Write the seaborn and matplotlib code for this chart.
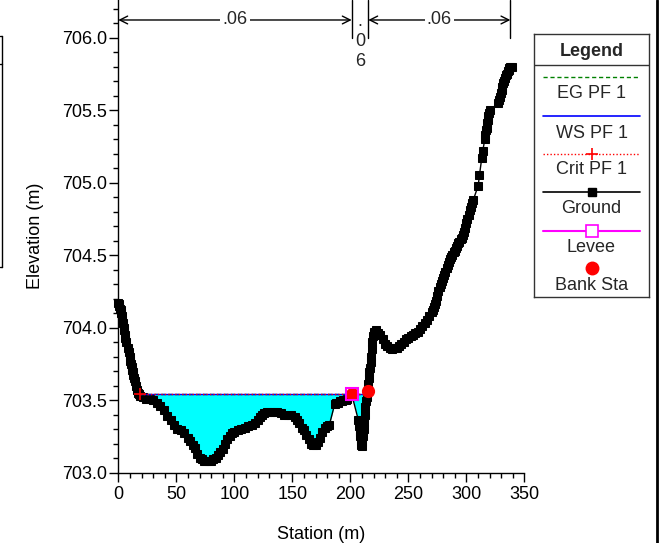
import numpy as np
import pandas as pd
import matplotlib
matplotlib.use("Agg")
import matplotlib.pyplot as plt
from matplotlib.lines import Line2D
from matplotlib.ticker import MultipleLocator, FormatStrFormatter
import seaborn as sns

# ---------------- data ----------------
station = [0, 0.5, 1, 1.5, 2, 2.5, 3, 3.5, 4, 4.5, 5, 5.5, 6, 7, 8, 9, 10, 10.5, 11, 11.5,
           12, 12.5, 13, 13.5, 14, 15, 16, 17, 18, 19,
           21, 24, 27, 30, 33, 36, 39, 42, 45, 48, 51, 54, 57, 60, 62, 64, 66, 68, 70,
           72, 74, 76, 78, 80, 82, 84, 86, 88, 90, 92, 94, 96, 98, 100, 103, 106, 109,
           112, 115, 118, 120, 122, 124, 126, 128, 131, 134, 137, 140, 143, 146, 149,
           152, 154, 156, 158, 160, 162, 164, 166, 168, 170, 172, 174, 176, 178, 180, 182,
           186.5, 188, 189.5, 191, 192.5, 194, 196, 197.5, 201.2,
           207, 207.5, 208, 208.5, 209, 209.5, 210, 210.5, 211, 211.5, 212, 212.5, 213,
           213.5, 214, 214.5, 215, 215.5, 216, 216.5, 217, 217.5, 218, 218.5, 219, 219.5,
           220, 222, 224,
           226, 228, 230, 232, 234, 236, 238, 240, 242, 244, 246, 248, 250, 252, 254, 256,
           258, 260, 262, 264, 266, 268, 270, 271, 272, 273, 274, 275, 276, 277, 278, 279,
           280, 281, 282, 283, 284, 285, 286, 287, 288, 289, 290, 291, 292, 293, 294, 295,
           296, 297, 298, 299, 300, 301, 302, 303, 304, 305, 306,
           310.3, 311.3, 313.3, 314.2,
           316, 316.5, 317, 317.5, 318, 318.5, 319, 319.5, 320.5,
           327.6, 328.3, 329, 329.7, 330.5, 331.2, 332, 332.7, 333.5, 334.2, 335, 335.7,
           336.5, 337.2, 338, 339]
elevation = [704.17, 704.16, 704.15, 704.13, 704.12, 704.10, 704.08, 704.05, 704.03, 704.00,
             703.98, 703.95, 703.93, 703.90, 703.86, 703.83, 703.80, 703.77, 703.75, 703.73,
             703.71, 703.69, 703.67, 703.65, 703.63, 703.60, 703.57, 703.55, 703.54, 703.53,
             703.52, 703.51, 703.51, 703.50, 703.48, 703.46, 703.43, 703.39, 703.36, 703.33,
             703.30, 703.29, 703.27, 703.24, 703.22, 703.19, 703.17, 703.13, 703.10,
             703.09, 703.08, 703.08, 703.08, 703.08, 703.09, 703.10, 703.12, 703.14, 703.16,
             703.20, 703.23, 703.25, 703.27, 703.28, 703.29, 703.30, 703.31,
             703.32, 703.33, 703.34, 703.36, 703.38, 703.40, 703.41, 703.42, 703.42, 703.42,
             703.42, 703.41, 703.40, 703.40, 703.40,
             703.38, 703.36, 703.34, 703.31, 703.29, 703.26, 703.23, 703.20, 703.19, 703.19,
             703.21, 703.24, 703.28, 703.31, 703.32, 703.33,
             703.47, 703.48, 703.48, 703.49, 703.49, 703.50, 703.50, 703.51, 703.54,
             703.36, 703.32, 703.28, 703.25, 703.22, 703.19, 703.18, 703.21, 703.25, 703.30,
             703.35, 703.40, 703.45, 703.49, 703.52, 703.55, 703.57, 703.61, 703.65, 703.69,
             703.72, 703.76, 703.80, 703.85, 703.90, 703.94,
             703.97, 703.98, 703.96,
             703.95, 703.92, 703.89, 703.87, 703.86, 703.85, 703.86, 703.86, 703.87, 703.89,
             703.90, 703.92, 703.93, 703.94, 703.95, 703.96,
             703.97, 703.99, 704.01, 704.03, 704.05, 704.08, 704.11, 704.12, 704.14, 704.16,
             704.18, 704.22, 704.25, 704.28, 704.30, 704.32,
             704.34, 704.36, 704.38, 704.41, 704.43, 704.45, 704.47, 704.49, 704.50, 704.52,
             704.53, 704.55, 704.56, 704.58, 704.59, 704.61,
             704.62, 704.64, 704.66, 704.69, 704.72, 704.75, 704.78, 704.81, 704.83, 704.86,
             704.88,
             704.98, 705.05, 705.17, 705.22,
             705.30, 705.33, 705.36, 705.38, 705.41, 705.43, 705.46, 705.48, 705.50,
             705.55, 705.57, 705.59, 705.62, 705.64, 705.66, 705.69, 705.70, 705.72, 705.74,
             705.75, 705.77, 705.78, 705.79, 705.80, 705.80]

ws_station = [18.7, 214.5]
ws_elev = 703.54
eg_elev = 703.545
crit_elev = 703.54
levee_station = [201.2]
levee_elev = [703.54]
bank_station = [201.2, 215.5]
bank_elev = [703.54, 703.56]
n_breaks = [0, 201.2, 215.5, 338]
n_values = [".06", ".06", ".06"]

ground = pd.DataFrame({"Station (m)": station, "Elevation (m)": elevation})

# ---------------- style ----------------
sns.set_theme(style="ticks")
plt.rcParams["font.family"] = ["Liberation Sans", "DejaVu Sans"]
plt.rcParams["font.size"] = 13

W, H = 659, 543
fig = plt.figure(figsize=(W / 100, H / 100), dpi=100)
fig.patch.set_facecolor("white")

x0, x1 = 118.3, 524.3
ybot = 472.5
ax = fig.add_axes([x0 / W, (H - ybot) / H, (x1 - x0) / W, ybot / H])
ax.set_facecolor("white")

# water fill
st = np.array(station, dtype=float)
el = np.array(elevation, dtype=float)
mask = (st >= ws_station[0]) & (st <= 216)
ax.fill_between(st, el, ws_elev, where=mask & (el <= ws_elev), interpolate=True,
                color="#00FFFF", linewidth=0, zorder=1)

# ground
sns.lineplot(data=ground, x="Station (m)", y="Elevation (m)", sort=False, ax=ax,
             color="black", linewidth=1, marker="s", markersize=5.5,
             markeredgecolor="black", markerfacecolor="black", zorder=3, clip_on=False)

# EG, WS, Crit
ax.plot(ws_station, [eg_elev] * 2, color="#008000", linestyle=(0, (3, 2)), linewidth=1, zorder=4)
ax.plot(ws_station, [ws_elev] * 2, color="blue", linewidth=1, zorder=5)
ax.plot(ws_station, [crit_elev] * 2, color="red", linestyle=(0, (1, 1.5)), linewidth=1,
        marker="+", markevery=[0], markersize=8, markeredgewidth=1.2, zorder=6)

# bank stations and levee
ax.plot(bank_station, bank_elev, linestyle="none", marker="o", markersize=8.5,
        color="red", zorder=7)
ax.plot(levee_station, levee_elev, linestyle="none", marker="s", markersize=8.5,
        markerfacecolor="none", markeredgecolor="#FF00FF", markeredgewidth=1.5, zorder=8)

# axes
ytop = 706.0 + 37.7 / 145
ax.set_xlim(0, 350)
ax.set_ylim(703.0, ytop)
ax.xaxis.set_major_locator(MultipleLocator(50))
ax.xaxis.set_minor_locator(MultipleLocator(10))
ax.yaxis.set_major_locator(MultipleLocator(0.5))
ax.yaxis.set_minor_locator(MultipleLocator(0.1))
ax.yaxis.set_major_formatter(FormatStrFormatter("%.1f"))
ax.tick_params(axis="both", which="major", direction="out", length=6.5, width=1,
               color="black", labelsize=13, labelcolor="black")
ax.tick_params(axis="x", which="major", pad=3.5)
ax.tick_params(axis="y", which="major", pad=1.5)
ax.tick_params(axis="both", which="minor", direction="out", length=3.5, width=1, color="black")
for s in ["top", "right"]:
    ax.spines[s].set_visible(False)
for s in ["left", "bottom"]:
    ax.spines[s].set_color("black")
    ax.spines[s].set_linewidth(1)
ax.set_xlabel("Station (m)", fontsize=13, color="black", labelpad=16)
ax.set_ylabel("Elevation (m)", fontsize=13, color="black", labelpad=13)
ax.grid(False)

# Manning's n annotations
yarr = 706.0 + (37.7 - 20) / 145
for b in n_breaks[1:]:
    ax.plot([b, b], [706.0, ytop], color="black", linewidth=1, clip_on=False, zorder=9)
segs = [(n_breaks[0], n_breaks[1]), (n_breaks[2], n_breaks[3])]
for (a, b), lab in zip(segs, [n_values[0], n_values[2]]):
    ax.annotate("", xy=(a, yarr), xytext=(b, yarr),
                arrowprops=dict(arrowstyle="<->", color="black", lw=1,
                                shrinkA=0, shrinkB=0, mutation_scale=14))
    ax.text((a + b) / 2, yarr, lab, ha="center", va="center", fontsize=13,
            bbox=dict(facecolor="white", edgecolor="none", pad=1.5), zorder=10)
mid = (n_breaks[1] + n_breaks[2]) / 2
for ch, py in zip(list(n_values[1]), [26.5, 46.5, 66.5]):
    ax.text(mid, 706.0 + (37.7 - py) / 145, ch, ha="center", va="baseline", fontsize=13)

# ---------------- legend panel ----------------
lx0, lx1, ly0, ly1 = 534, 649, 34, 297
lax = fig.add_axes([lx0 / W, (H - ly1) / H, (lx1 - lx0) / W, (ly1 - ly0) / H])
lax.set_xlim(lx0, lx1)
lax.set_ylim(ly1, ly0)
lax.set_xticks([])
lax.set_yticks([])
lax.set_facecolor("white")
for s in lax.spines.values():
    s.set_color("#333333")
    s.set_linewidth(1)
cx = (lx0 + lx1) / 2
sx0, sx1 = 542.7, 640
lax.text(cx, 51, "Legend", ha="center", va="center", fontsize=13, fontweight="bold")
lax.plot([lx0, lx1], [65, 65], color="#333333", linewidth=1)
lax.plot([sx0, sx1], [76.7, 76.7], color="#008000", linestyle=(0, (3, 2)), linewidth=1)
lax.text(cx, 93, "EG PF 1", ha="center", va="center", fontsize=13)
lax.plot([sx0, sx1], [116, 116], color="blue", linewidth=1.2)
lax.text(cx, 133, "WS PF 1", ha="center", va="center", fontsize=13)
lax.plot([sx0, sx1], [154, 154], color="red", linestyle=(0, (1, 1.5)), linewidth=1)
lax.plot([cx], [154], marker="+", color="red", markersize=8, markeredgewidth=1.2)
lax.text(cx, 170, "Crit PF 1", ha="center", va="center", fontsize=13)
lax.plot([sx0, sx1], [192.3, 192.3], color="black", linewidth=1.2)
lax.plot([cx], [192.3], marker="s", color="black", markersize=5.5)
lax.text(cx, 209, "Ground", ha="center", va="center", fontsize=13)
lax.plot([sx0, sx1], [230.7, 230.7], color="#FF00FF", linewidth=1.5)
lax.plot([cx], [230.7], marker="s", markersize=9, markerfacecolor="white",
         markeredgecolor="#FF00FF", markeredgewidth=1.2)
lax.text(cx, 248, "Levee", ha="center", va="center", fontsize=13)
lax.plot([cx], [268.3], marker="o", color="red", markersize=9)
lax.text(cx, 286, "Bank Sta", ha="center", va="center", fontsize=13)

# frame bits at figure edges
def px_line(xs, ys, lw=1.0):
    fig.add_artist(Line2D([x / W for x in xs], [1 - y / H for y in ys],
                          transform=fig.transFigure, color="black", linewidth=lw))

px_line([657, 657], [0, 543], lw=2)
px_line([1.5, 1.5], [36, 267], lw=1)
px_line([0, 2], [36, 36], lw=1)
px_line([0, 2], [64, 64], lw=1)
px_line([0, 2], [267, 267], lw=1)

fig.savefig("out.png", dpi=100, facecolor="white")
